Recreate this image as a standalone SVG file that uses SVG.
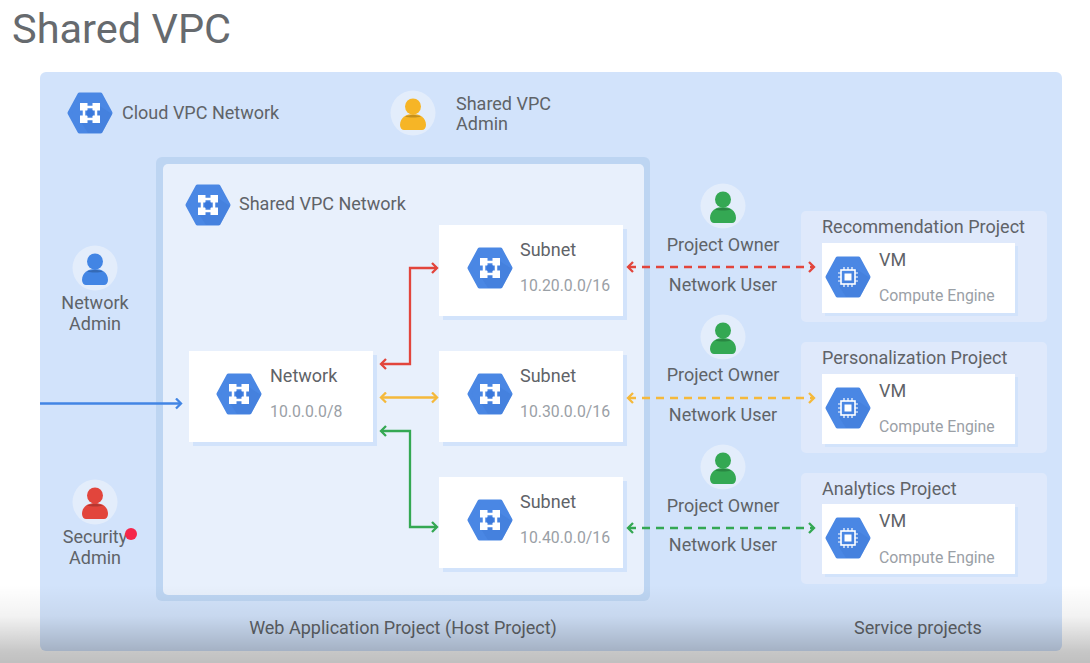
<svg xmlns="http://www.w3.org/2000/svg" width="1090" height="663" viewBox="0 0 1090 663">
<style>
text{font-family:Roboto,"Liberation Sans",sans-serif;fill:#5f6368;font-size:18px}
.title{font-size:41.500px;fill:#666a6e}
.sub{fill:#9aa0a6;font-size:15.800px}
.m{text-anchor:middle}
.card{fill:#fff}
.shadow{fill:#d2e3fb}
.proj{fill:#dfe9fb}
.conn{fill:none;stroke-width:2.300}
.dash{stroke-dasharray:8 6}
.halo{fill:#e3edfb}
</style>
<defs>
<linearGradient id="fade" x1="0" y1="0" x2="0" y2="1">
<stop offset="0" stop-color="#000" stop-opacity="0"/>
<stop offset=".4" stop-color="#000" stop-opacity=".05"/>
<stop offset=".85" stop-color="#000" stop-opacity=".22"/>
<stop offset="1" stop-color="#000" stop-opacity=".25"/>
</linearGradient>
<g id="hex">
<path d="M-20.500 0L-10.500 -18.500H10.500L20.500 0L10.500 18.500H-10.500Z" fill="#4a87e4" stroke="#4a87e4" stroke-width="4" stroke-linejoin="round"/>
<path d="M8 -8L22 1L12 20H-2L-9 9Z" fill="#3f7bd8" opacity=".5"/>
</g>
<g id="net">
<use href="#hex"/>
<path d="M-6 -6H6V6H-6Z" fill="none" stroke="#fff" stroke-width="2.500"/>
<rect x="-10" y="-10" width="7.500" height="7.500" fill="#fff"/>
<rect x="2.500" y="-10" width="7.500" height="7.500" fill="#fff"/>
<rect x="-10" y="2.500" width="7.500" height="7.500" fill="#fff"/>
<rect x="2.500" y="2.500" width="7.500" height="7.500" fill="#fff"/>
<circle r="3.500" fill="#3a78dc"/>
</g>
<g id="chip">
<use href="#hex"/>
<rect x="-7" y="-7" width="14" height="14" fill="none" stroke="#fff" stroke-width="1.600"/>
<rect x="-3.500" y="-3.500" width="7" height="7" fill="#fff"/>
<path d="M-4 -10V-7M0 -10V-7M4 -10V-7M-4 7V10M0 7V10M4 7V10M-10 -4H-7M-10 0H-7M-10 4H-7M7 -4H10M7 0H10M7 4H10" stroke="#fff" stroke-width="1.200"/>
</g>
<g id="face">
<circle class="halo" r="22.500"/>
<circle cy="-6.500" r="8"/>
<path d="M-13 12C-13 4 -6 1 0 1S13 4 13 12C13 15 11 17 9 17H-9C-11 17 -13 15 -13 12Z"/>
<path d="M-8 3.500C-4 1.500 4 1.500 8 3.500C4 4.800 -4 4.800 -8 3.500Z" fill="#000" opacity=".2"/>
</g>
<marker id="mb" viewBox="0 0 10 12" refX="8" refY="6" markerWidth="10" markerHeight="12" markerUnits="userSpaceOnUse" orient="auto-start-reverse"><path d="M3 1L8 6L3 11" fill="none" stroke="#4285e4" stroke-width="2.300"/></marker>
<marker id="mr" viewBox="0 0 10 12" refX="8" refY="6" markerWidth="10" markerHeight="12" markerUnits="userSpaceOnUse" orient="auto-start-reverse"><path d="M3 1L8 6L3 11" fill="none" stroke="#e2453c" stroke-width="2.300"/></marker>
<marker id="my" viewBox="0 0 10 12" refX="8" refY="6" markerWidth="10" markerHeight="12" markerUnits="userSpaceOnUse" orient="auto-start-reverse"><path d="M3 1L8 6L3 11" fill="none" stroke="#f5b93b" stroke-width="2.300"/></marker>
<marker id="mg" viewBox="0 0 10 12" refX="8" refY="6" markerWidth="10" markerHeight="12" markerUnits="userSpaceOnUse" orient="auto-start-reverse"><path d="M3 1L8 6L3 11" fill="none" stroke="#34a853" stroke-width="2.300"/></marker>
</defs>
<rect width="1090" height="663" fill="#fff"/>
<text class="title" x="12" y="43">Shared VPC</text>
<rect id="panel" x="40" y="72" width="1022" height="579" rx="6" fill="#d2e3fb"/>
<g id="host-project">
<rect x="156" y="157" width="494" height="444" rx="6" fill="#bdd5f2"/>
<rect x="163" y="164" width="481" height="431" rx="5" fill="#e8f0fc"/>
</g>
<g id="cloud-vpc"><use href="#net" x="90" y="113"/><text x="122" y="119">Cloud VPC Network</text></g>
<g id="shared-vpc-admin"><use href="#face" x="413" y="113" fill="#f6b526"/><text x="456" y="110">Shared VPC</text><text x="456" y="130">Admin</text></g>
<g id="shared-vpc-network"><use href="#net" x="208" y="205"/><text x="239" y="210">Shared VPC Network</text></g>
<g id="network-admin"><use href="#face" x="95" y="268" fill="#4285e4"/><text class="m" x="95" y="309">Network</text><text class="m" x="95" y="330">Admin</text></g>
<g id="security-admin"><use href="#face" x="95" y="502" fill="#e2453c"/><text class="m" x="95" y="543">Security</text><text class="m" x="95" y="564">Admin</text><circle cx="131" cy="534" r="6" fill="#f5264a"/></g>
<g id="network"><rect class="shadow" x="193" y="355" width="184" height="91"/><rect class="card" x="189" y="351" width="184" height="91"/><use href="#net" x="239" y="394"/><text x="270" y="382">Network</text><text class="sub" x="270" y="417">10.0.0.0/8</text></g>
<g id="subnet-20"><rect class="shadow" x="443" y="229" width="184" height="91"/><rect class="card" x="439" y="225" width="184" height="91"/><use href="#net" x="490" y="268"/><text x="520" y="256">Subnet</text><text class="sub" x="520" y="291">10.20.0.0/16</text></g>
<g id="subnet-30"><rect class="shadow" x="443" y="355" width="184" height="91"/><rect class="card" x="439" y="351" width="184" height="91"/><use href="#net" x="490" y="394"/><text x="520" y="382">Subnet</text><text class="sub" x="520" y="417">10.30.0.0/16</text></g>
<g id="subnet-40"><rect class="shadow" x="443" y="481" width="184" height="91"/><rect class="card" x="439" y="477" width="184" height="91"/><use href="#net" x="490" y="520"/><text x="520" y="508">Subnet</text><text class="sub" x="520" y="543">10.40.0.0/16</text></g>
<g id="owner-1"><use href="#face" x="723" y="206" fill="#34a853"/><text class="m" x="723" y="251">Project Owner</text><text class="m" x="723" y="291">Network User</text></g>
<g id="owner-2"><use href="#face" x="723" y="337" fill="#34a853"/><text class="m" x="723" y="381">Project Owner</text><text class="m" x="723" y="421">Network User</text></g>
<g id="owner-3"><use href="#face" x="723" y="467" fill="#34a853"/><text class="m" x="723" y="512">Project Owner</text><text class="m" x="723" y="551">Network User</text></g>
<g id="recommendation"><rect class="proj" x="801" y="211" width="246" height="111" rx="5"/><text x="822" y="233">Recommendation Project</text><rect class="shadow" x="825" y="246" width="193" height="70"/><rect class="card" x="822" y="243" width="193" height="70"/><use href="#chip" x="848" y="277"/><text x="879" y="266">VM</text><text class="sub" x="879" y="301">Compute Engine</text></g>
<g id="personalization"><rect class="proj" x="801" y="342" width="246" height="111" rx="5"/><text x="822" y="364">Personalization Project</text><rect class="shadow" x="825" y="377" width="193" height="70"/><rect class="card" x="822" y="374" width="193" height="70"/><use href="#chip" x="848" y="408"/><text x="879" y="397">VM</text><text class="sub" x="879" y="432">Compute Engine</text></g>
<g id="analytics"><rect class="proj" x="801" y="473" width="246" height="111" rx="5"/><text x="822" y="495">Analytics Project</text><rect class="shadow" x="825" y="507" width="193" height="70"/><rect class="card" x="822" y="504" width="193" height="70"/><use href="#chip" x="848" y="538"/><text x="879" y="527">VM</text><text class="sub" x="879" y="563">Compute Engine</text></g>
<g id="connectors">
<path class="conn" stroke="#4285e4" marker-end="url(#mb)" d="M40 403.500H181"/>
<path class="conn" stroke="#e2453c" marker-start="url(#mr)" marker-end="url(#mr)" d="M381 364H410V268H437"/>
<path class="conn" stroke="#f5b93b" marker-start="url(#my)" marker-end="url(#my)" d="M381 397.500H437"/>
<path class="conn" stroke="#34a853" marker-start="url(#mg)" marker-end="url(#mg)" d="M381 431H410V527H437"/>
<path class="conn dash" stroke="#e2453c" marker-start="url(#mr)" marker-end="url(#mr)" d="M628 267H814"/>
<path class="conn dash" stroke="#f5b93b" marker-start="url(#my)" marker-end="url(#my)" d="M628 398H814"/>
<path class="conn dash" stroke="#34a853" marker-start="url(#mg)" marker-end="url(#mg)" d="M628 528H814"/>
</g>
<text class="m" x="403" y="634">Web Application Project (Host Project)</text>
<text class="m" x="918" y="634">Service projects</text>
<rect id="fade-bar" x="0" y="585" width="1090" height="78" fill="url(#fade)"/>
</svg>
